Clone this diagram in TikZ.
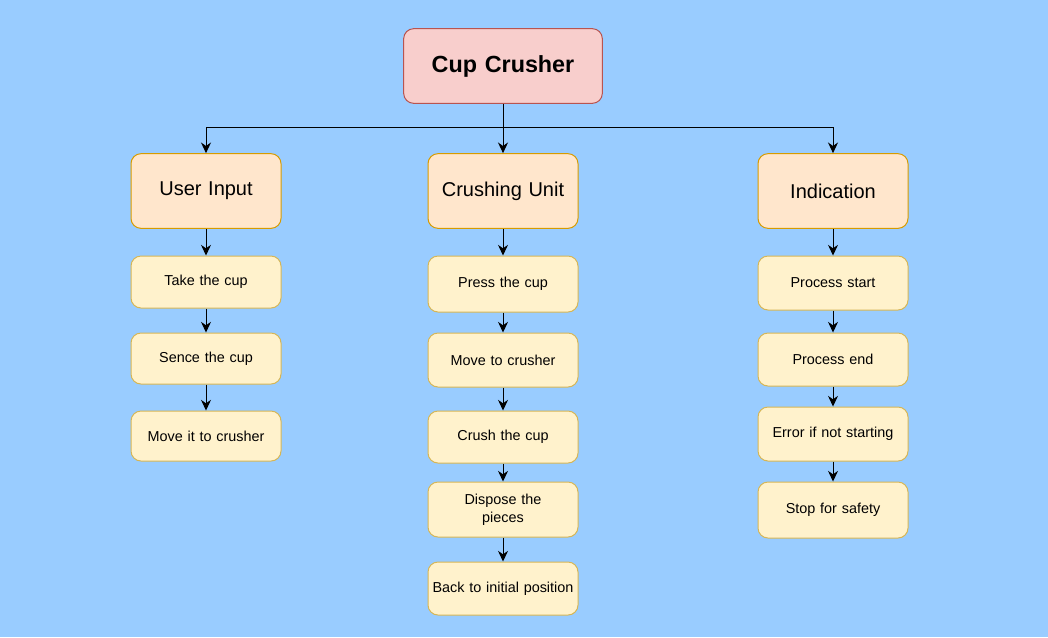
\documentclass[tikz,border=0pt]{standalone}
\usepackage{fontspec}
\setmainfont{Liberation Sans}
\usetikzlibrary{arrows.meta}
\definecolor{bg}{HTML}{99CCFF}
\definecolor{redfill}{HTML}{F8CECC}
\definecolor{redline}{HTML}{B85450}
\definecolor{orfill}{HTML}{FFE6CC}
\definecolor{orline}{HTML}{D79B00}
\definecolor{yefill}{HTML}{FFF2CC}
\definecolor{yeline}{HTML}{D6B656}
\tikzset{
  base/.style={rounded corners=7.5pt, line width=0.75pt, minimum width=112.5pt, inner sep=2pt, align=center, text width=108pt},
  topbox/.style={base, fill=redfill, draw=redline, minimum width=149pt, text width=145pt, minimum height=56pt, font=\fontsize{17.5}{20}\selectfont\bfseries},
  midbox/.style={base, fill=orfill, draw=orline, minimum height=56pt, font=\fontsize{15}{18}\selectfont},
  leaf/.style={base, fill=yefill, draw=yeline, font=\fontsize{10.8}{13.5}\selectfont},
  arr/.style={-{Stealth[length=8pt,width=7.5pt]}, line width=0.75pt},
  ln/.style={line width=0.75pt}
}
\begin{document}
\begin{tikzpicture}[x=0.75pt,y=-0.75pt]
\useasboundingbox[fill=bg] (0,0) rectangle (1048,637);
\node[topbox] (cc) at (503,66) {Cup Crusher};
\node[midbox] (ui) at (206,191) {User Input};
\node[midbox] (cu) at (503,191) {Crushing Unit};
\node[midbox] (ind) at (833,191) {Indication};
% left
\node[leaf, minimum height=39pt] (l1) at (206,282) {Take the cup};
\node[leaf, minimum height=38.25pt] (l2) at (206,358.5) {Sence the cup};
\node[leaf, minimum height=37.5pt] (l3) at (206,436) {Move it to crusher};
% middle
\node[leaf, minimum height=42pt] (m1) at (503,284) {Press the cup};
\node[leaf, minimum height=40.5pt] (m2) at (503,360) {Move to crusher};
\node[leaf, minimum height=39pt] (m3) at (503,437) {Crush the cup};
\node[leaf, minimum height=41.25pt] (m4) at (503,509.5) {Dispose the\\pieces};
\node[leaf, minimum height=39.75pt] (m5) at (503,588.5) {Back to initial position};
% right
\node[leaf, minimum height=40.5pt] (r1) at (833,283) {Process start};
\node[leaf, minimum height=39.75pt] (r2) at (833,359.5) {Process end};
\node[leaf, minimum height=40.5pt] (r3) at (833,434) {Error if not starting};
\node[leaf, minimum height=42pt] (r4) at (833,510) {Stop for safety};
% connectors
\coordinate (j) at (503,127);
\draw[ln] (cc.south) -- (j);
\draw[arr] (j) -| (ui.north);
\draw[arr] (j) -| (ind.north);
\draw[arr] (j) -- (cu.north);
\draw[arr] (ui) -- (l1);
\draw[arr] (l1) -- (l2);
\draw[arr] (l2) -- (l3);
\draw[arr] (cu) -- (m1);
\draw[arr] (m1) -- (m2);
\draw[arr] (m2) -- (m3);
\draw[arr] (m3) -- (m4);
\draw[arr] (m4) -- (m5);
\draw[arr] (ind) -- (r1);
\draw[arr] (r1) -- (r2);
\draw[arr] (r2) -- (r3);
\draw[arr] (r3) -- (r4);
\end{tikzpicture}
\end{document}
